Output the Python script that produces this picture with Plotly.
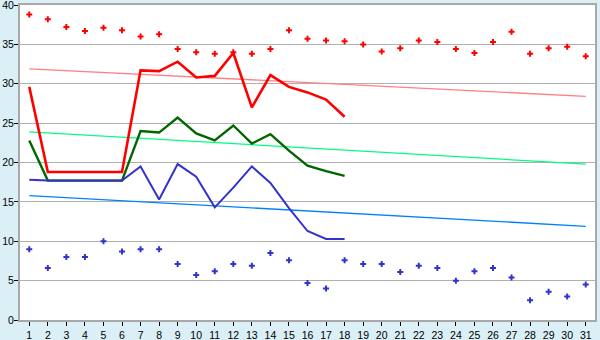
import plotly.graph_objects as go

days = list(range(1, 32))
line_days = list(range(1, 19))

red_dots = [38.8, 38.2, 37.2, 36.7, 37.1, 36.8, 36.0, 36.3, 34.4, 34.0,
            33.8, 34.0, 33.8, 34.4, 36.8, 35.7, 35.5, 35.4, 35.0, 34.1,
            34.5, 35.5, 35.3, 34.4, 33.9, 35.3, 36.6, 33.8, 34.5, 34.7, 33.5]
blue_dots = [9.0, 6.6, 8.0, 8.0, 10.0, 8.7, 9.0, 9.0, 7.1, 5.7,
             6.2, 7.1, 6.9, 8.5, 7.6, 4.7, 4.0, 7.6, 7.1, 7.1,
             6.1, 6.9, 6.6, 5.0, 6.2, 6.6, 5.4, 2.5, 3.6, 3.0, 4.5]

red_line = [29.6, 18.8, 18.8, 18.8, 18.8, 18.8, 31.7, 31.6, 32.8, 30.8,
            31.0, 33.9, 27.0, 31.1, 29.6, 28.9, 28.0, 25.8]
green_line = [22.8, 17.7, 17.7, 17.7, 17.7, 17.7, 24.0, 23.8, 25.7, 23.7,
              22.8, 24.7, 22.4, 23.6, 21.5, 19.6, 18.9, 18.3]
blue_line = [17.8, 17.7, 17.7, 17.7, 17.7, 17.7, 19.5, 15.3, 19.8, 18.2,
             14.3, 16.8, 19.5, 17.4, 14.2, 11.3, 10.3, 10.3]

trend_x = [1, 31]
trend_red = [31.9, 28.4]
trend_green = [23.9, 19.8]
trend_blue = [15.8, 11.9]

fig = go.Figure()

fig.add_trace(go.Scatter(x=trend_x, y=trend_red, mode="lines",
                         line=dict(color="#ff8080", width=1.3)))
fig.add_trace(go.Scatter(x=trend_x, y=trend_green, mode="lines",
                         line=dict(color="#00ff80", width=1.3)))
fig.add_trace(go.Scatter(x=trend_x, y=trend_blue, mode="lines",
                         line=dict(color="#0080ff", width=1.3)))

fig.add_trace(go.Scatter(x=line_days, y=red_line, mode="lines",
                         line=dict(color="#ff0000", width=2.6)))
fig.add_trace(go.Scatter(x=line_days, y=green_line, mode="lines",
                         line=dict(color="#006600", width=2.4)))
fig.add_trace(go.Scatter(x=line_days, y=blue_line, mode="lines",
                         line=dict(color="#3333cc", width=2)))

fig.add_trace(go.Scatter(x=days, y=red_dots, mode="markers",
                         marker=dict(symbol="cross", size=5, color="#ff0000",
                                     line=dict(width=0))))
fig.add_trace(go.Scatter(x=days, y=blue_dots, mode="markers",
                         marker=dict(symbol="cross", size=5, color="#3333cc",
                                     line=dict(width=0))))

fig.update_layout(
    width=600, height=340,
    margin=dict(l=20, r=5, t=5, b=20),
    paper_bgcolor="#dbeff6",
    plot_bgcolor="#ffffff",
    showlegend=False,
    font=dict(family="Liberation Sans", size=10.5, color="#000000"),
)
fig.update_xaxes(
    range=[0.5, 31.5], tickmode="array", tickvals=days,
    ticktext=[str(d) for d in days], automargin=False,
    ticklabeloverflow="allow", ticklabelstandoff=0,
    showgrid=False, zeroline=False,
    showline=True, linecolor="#a8a8a8", linewidth=2, mirror=True,
    ticks="outside", ticklen=4, tickcolor="#000000", tickwidth=1,
)
fig.update_yaxes(
    range=[0, 40], tickmode="array", tickvals=[0, 5, 10, 15, 20, 25, 30, 35, 40],
    automargin=False, ticklabeloverflow="allow", ticklabelstandoff=-2,
    showgrid=True, gridcolor="#b0b0b0", gridwidth=1, zeroline=False,
    showline=True, linecolor="#a8a8a8", linewidth=2, mirror=True,
    ticks="outside", ticklen=4, tickcolor="#000000", tickwidth=1,
)

fig.write_html("out.html")
